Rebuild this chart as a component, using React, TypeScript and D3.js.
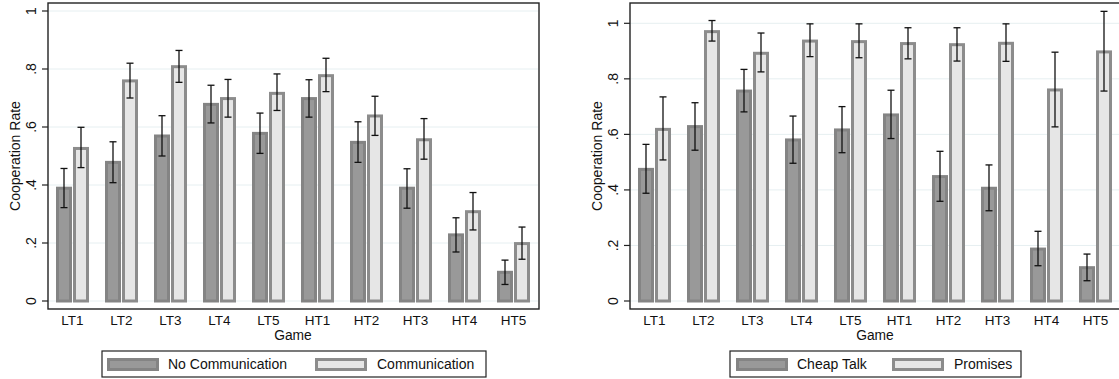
import React from "react";
import * as d3 from "d3";

const games = ["LT1", "LT2", "LT3", "LT4", "LT5", "HT1", "HT2", "HT3", "HT4", "HT5"];
const yTicks = [0, 0.2, 0.4, 0.6, 0.8, 1];
const yTickLabels = ["0", ".2", ".4", ".6", ".8", "1"];

// Left panel: No Communication vs Communication
const noCommMean = [0.389, 0.478, 0.569, 0.678, 0.578, 0.698, 0.547, 0.389, 0.228, 0.099];
const noCommLo = [0.322, 0.408, 0.5, 0.614, 0.509, 0.634, 0.478, 0.32, 0.169, 0.057];
const noCommHi = [0.457, 0.549, 0.639, 0.744, 0.648, 0.763, 0.618, 0.456, 0.287, 0.141];
const commMean = [0.526, 0.759, 0.808, 0.698, 0.716, 0.777, 0.638, 0.556, 0.308, 0.198];
const commLo = [0.46, 0.7, 0.754, 0.634, 0.657, 0.722, 0.571, 0.489, 0.245, 0.144];
const commHi = [0.599, 0.82, 0.864, 0.764, 0.783, 0.837, 0.706, 0.629, 0.374, 0.255];

// Right panel: Cheap Talk vs Promises
const cheapMean = [0.474, 0.628, 0.756, 0.58, 0.616, 0.67, 0.448, 0.406, 0.187, 0.12];
const cheapLo = [0.388, 0.543, 0.681, 0.496, 0.534, 0.585, 0.359, 0.325, 0.127, 0.073];
const cheapHi = [0.564, 0.714, 0.834, 0.666, 0.7, 0.759, 0.539, 0.49, 0.251, 0.169];
const promMean = [0.618, 0.97, 0.892, 0.936, 0.934, 0.927, 0.923, 0.928, 0.76, 0.897];
const promLo = [0.508, 0.936, 0.825, 0.88, 0.876, 0.872, 0.864, 0.863, 0.627, 0.756];
const promHi = [0.735, 1.01, 0.965, 0.998, 0.998, 0.984, 0.984, 0.998, 0.896, 1.043];

const FONT = "'Liberation Sans', Arial, Helvetica, sans-serif";
const DARK_FILL = "#999999";
const DARK_STROKE = "#848484";
const LIGHT_FILL = "#e6e6e6";
const LIGHT_STROKE = "#8c8c8c";

type PanelProps = {
  left: number;
  right: number;
  yTop: number; // pixel of y=1
  tickX: number;
  titleX: number;
  s1: { mean: number[]; lo: number[]; hi: number[]; name: string };
  s2: { mean: number[]; lo: number[]; hi: number[]; name: string };
  legend: { x0: number; x1: number; k1: number; t1: number; k2: number; t2: number };
};

function Panel({ left, right, yTop, tickX, titleX, s1, s2, legend }: PanelProps) {
  const x = d3.scaleBand<string>().domain(games).range([left, right]).padding(0);
  const y = d3.scaleLinear().domain([0, 1]).range([301, yTop]);
  const bw = x.bandwidth();
  const barOuter = 16;
  const sw = 3;
  const off1 = (bw - 2 * barOuter - 1) / 2;
  const off2 = off1 + barOuter + 1;
  const frameTop = 3;
  const frameBottom = 309;
  const cx = (left + right) / 2;

  const bars = (s: PanelProps["s1"], off: number, fill: string, stroke: string) =>
    games.map((g, i) => {
      const x0 = (x(g) as number) + off;
      return (
        <rect
          key={g}
          x={x0 + sw / 2}
          y={y(s.mean[i])}
          width={barOuter - sw}
          height={y(0) - y(s.mean[i])}
          fill={fill}
          stroke={stroke}
          strokeWidth={sw}
        />
      );
    });

  const errs = (s: PanelProps["s1"], off: number) =>
    games.map((g, i) => {
      const xc = (x(g) as number) + off + barOuter / 2;
      return (
        <g key={g} stroke="#111" strokeWidth={1.3}>
          <line x1={xc} x2={xc} y1={y(s.lo[i])} y2={y(s.hi[i])} />
          <line x1={xc - 3.5} x2={xc + 3.5} y1={y(s.lo[i])} y2={y(s.lo[i])} />
          <line x1={xc - 3.5} x2={xc + 3.5} y1={y(s.hi[i])} y2={y(s.hi[i])} />
        </g>
      );
    });

  return (
    <g fontFamily={FONT} fill="#222">
      {yTicks.map((t) => (
        <line key={t} x1={left} x2={right} y1={y(t)} y2={y(t)} stroke="#e6eff1" strokeWidth={1} />
      ))}
      {bars(s1, off1, DARK_FILL, DARK_STROKE)}
      {bars(s2, off2, LIGHT_FILL, LIGHT_STROKE)}
      {errs(s1, off1)}
      {errs(s2, off2)}
      <rect
        x={left}
        y={frameTop}
        width={right - left + 1}
        height={frameBottom - frameTop}
        fill="none"
        stroke="#222"
        strokeWidth={1.4}
      />
      {yTicks.map((t, i) => (
        <g key={t}>
          <line x1={left - 6} x2={left} y1={y(t)} y2={y(t)} stroke="#222" strokeWidth={1.2} />
          <text
            transform={`translate(${tickX},${y(t)}) rotate(-90)`}
            textAnchor="middle"
            dy="0.35em"
            fontSize={14}
            fill="#111"
          >
            {yTickLabels[i]}
          </text>
        </g>
      ))}
      <text
        transform={`translate(${titleX},${(frameTop + frameBottom) / 2}) rotate(-90)`}
        textAnchor="middle"
        dy="0.35em"
        fontSize={14}
        fill="#111"
      >
        Cooperation Rate
      </text>
      {games.map((g) => (
        <text key={g} x={(x(g) as number) + bw / 2} y={325} textAnchor="middle" fontSize={13.5} fill="#111">
          {g}
        </text>
      ))}
      <text x={cx} y={340} textAnchor="middle" fontSize={13.8} fill="#111">
        Game
      </text>
      <rect x={legend.x0} y={351} width={legend.x1 - legend.x0} height={26} fill="#fff" stroke="#222" strokeWidth={1.2} />
      <rect x={legend.k1 + 1.5} y={359.5} width={49} height={10} fill={DARK_FILL} stroke={DARK_STROKE} strokeWidth={3} />
      <text x={legend.t1} y={369} fontSize={14} fill="#111">
        {s1.name}
      </text>
      <rect x={legend.k2 + 1.5} y={359.5} width={49} height={10} fill={LIGHT_FILL} stroke={LIGHT_STROKE} strokeWidth={3} />
      <text x={legend.t2} y={369} fontSize={14} fill="#111">
        {s2.name}
      </text>
    </g>
  );
}

export default function App() {
  return (
    <svg
      width={1119}
      height={379}
      style={{ position: "absolute", left: 0, top: 0, background: "#fff" }}
    >
      <rect width={1119} height={379} fill="#fff" />
      <Panel
        left={48}
        right={538}
        yTop={11}
        tickX={31}
        titleX={15}
        s1={{ mean: noCommMean, lo: noCommLo, hi: noCommHi, name: "No Communication" }}
        s2={{ mean: commMean, lo: commLo, hi: commHi, name: "Communication" }}
        legend={{ x0: 102, x1: 486, k1: 107, t1: 168, k2: 315, t2: 377 }}
      />
      <Panel
        left={630}
        right={1120}
        yTop={23.3}
        tickX={613}
        titleX={597}
        s1={{ mean: cheapMean, lo: cheapLo, hi: cheapHi, name: "Cheap Talk" }}
        s2={{ mean: promMean, lo: promLo, hi: promHi, name: "Promises" }}
        legend={{ x0: 730, x1: 1021, k1: 736, t1: 797, k2: 892, t2: 954 }}
      />
    </svg>
  );
}
